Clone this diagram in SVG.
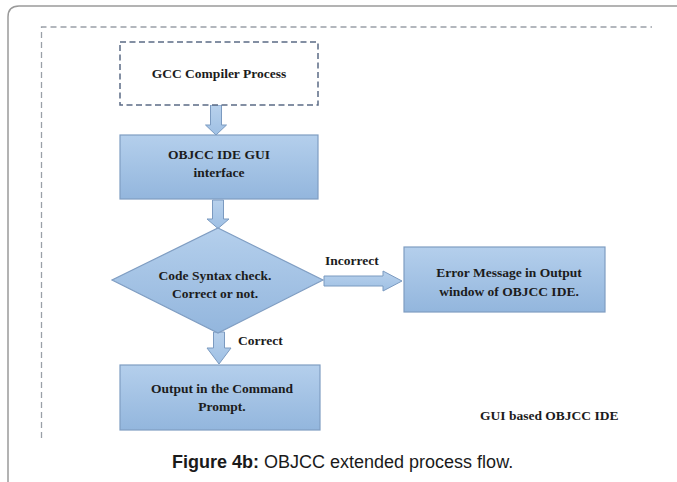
<svg xmlns="http://www.w3.org/2000/svg" width="677" height="482" viewBox="0 0 677 482">
  <defs>
    <linearGradient id="fillBlue" x1="0" y1="0" x2="0" y2="1">
      <stop offset="0" stop-color="#b4cfec"/>
      <stop offset="1" stop-color="#93b6dd"/>
    </linearGradient>
    <linearGradient id="arrowBlue" x1="0" y1="0" x2="0" y2="1">
      <stop offset="0" stop-color="#b8d1ec"/>
      <stop offset="1" stop-color="#9fc0e4"/>
    </linearGradient>
    <style>
      .frame { fill: none; stroke: #9a9a9a; stroke-width: 1.5; }
      .dashframe { fill: none; stroke: #9aa0a8; stroke-width: 1.3; stroke-dasharray: 6 4; }
      .gccbox { fill: #ffffff; stroke: #5b6b85; stroke-width: 1.5; stroke-dasharray: 6 3.5; }
      .box { fill: url(#fillBlue); stroke: #7f9dc2; stroke-width: 1.2; }
      .arrow { fill: url(#arrowBlue); stroke: #7b9ac0; stroke-width: 1; }
      .lbl { font-family: "Liberation Serif", "Times New Roman", serif; font-weight: bold; font-size: 13.5px; fill: #1c1c1c; text-anchor: middle; }
      .edge { font-family: "Liberation Serif", "Times New Roman", serif; font-weight: bold; font-size: 13.5px; fill: #1c1c1c; }
      .cap { font-family: "Liberation Sans", Arial, sans-serif; font-size: 18px; fill: #1a1a1a; }
    </style>
  </defs>

  <rect width="677" height="482" fill="#ffffff"/>

  <!-- outer figure frame -->
  <path class="frame" d="M 8 482 V 17 Q 8 6 19 6 H 677"/>

  <!-- dashed container -->
  <path class="dashframe" d="M 41.5 438 V 27 H 652"/>

  <!-- connectors -->
  <g id="connectors">
    <path class="arrow" d="M 210.5 105 H 221.5 V 125 H 226.5 L 216 135 L 205.5 125 H 210.5 Z"/>
    <path class="arrow" d="M 212.5 200 H 223.5 V 219 H 229 L 218 228.5 L 207 219 H 212.5 Z"/>
    <path class="arrow" d="M 213.5 332 H 224.5 V 348 H 231 L 219 364 L 207 348 H 213.5 Z"/>
    <path class="arrow" d="M 324 276 H 383 V 271 L 402 281 L 383 291 V 286 H 324 Z"/>
    <text class="edge" x="325" y="265">Incorrect</text>
    <text class="edge" x="238" y="345">Correct</text>
  </g>

  <g id="gcc">
    <rect class="gccbox" x="120" y="42" width="198" height="63"/>
    <text class="lbl" x="219" y="78">GCC Compiler Process</text>
  </g>

  <g id="objcc">
    <rect class="box" x="120" y="135" width="198" height="64"/>
    <text class="lbl" x="219" y="159">OBJCC IDE GUI</text>
    <text class="lbl" x="219" y="177">interface</text>
  </g>

  <g id="check">
    <polygon class="box" points="218,228 323,280 218,333 112,280"/>
    <text class="lbl" x="215" y="280">Code Syntax check.</text>
    <text class="lbl" x="215" y="298">Correct or not.</text>
  </g>

  <g id="error">
    <rect class="box" x="404" y="247" width="201" height="65"/>
    <text class="lbl" x="509" y="277">Error Message in Output</text>
    <text class="lbl" x="509" y="296">window of OBJCC IDE.</text>
  </g>

  <g id="output">
    <rect class="box" x="120" y="365" width="200" height="65"/>
    <text class="lbl" x="222" y="393">Output in the Command</text>
    <text class="lbl" x="222" y="411">Prompt.</text>
  </g>

  <g id="guilabel">
    <text class="edge" x="480" y="420" font-size="14">GUI based OBJCC IDE</text>
  </g>

  <g id="caption">
    <text class="cap" x="172" y="468"><tspan font-weight="bold">Figure 4b:</tspan> OBJCC extended process flow.</text>
  </g>
</svg>
